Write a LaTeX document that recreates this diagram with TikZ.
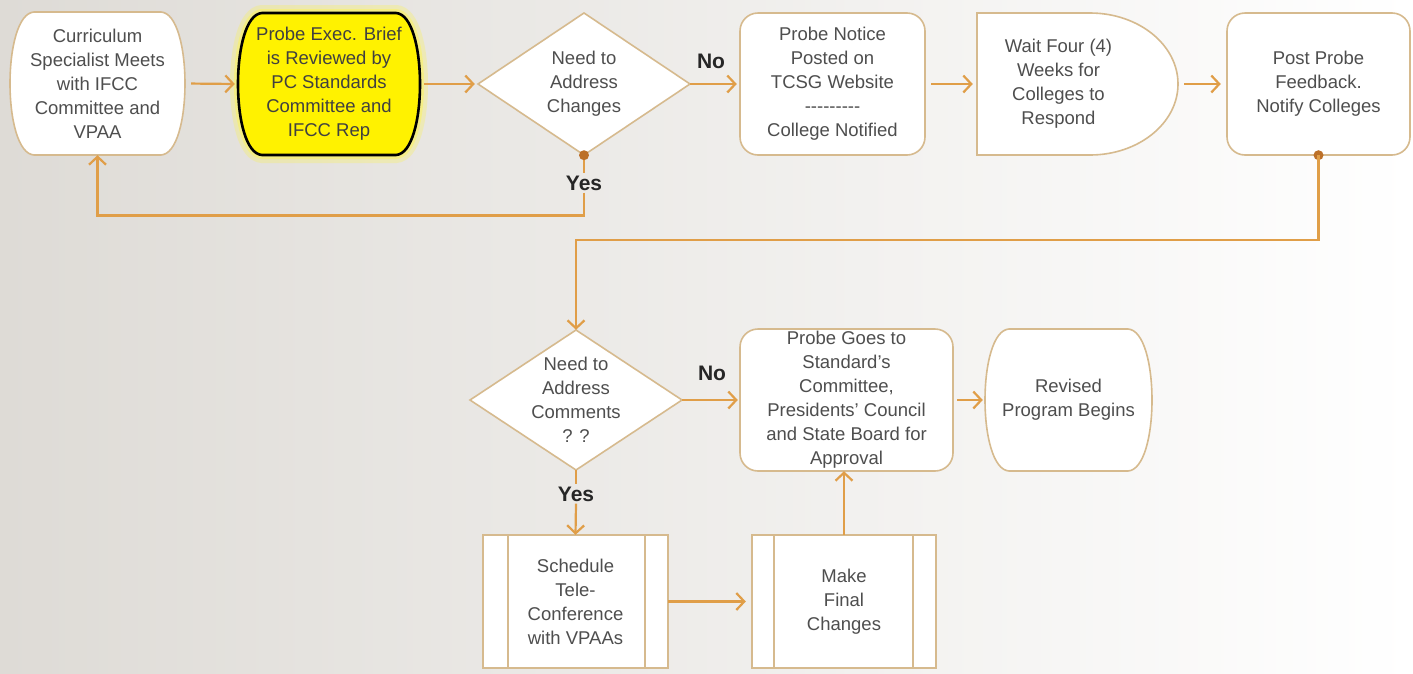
\documentclass[tikz,border=0pt]{standalone}
\usepackage{fontspec}
\setmainfont{Liberation Sans}
\usetikzlibrary{arrows.meta}
\definecolor{connc}{RGB}{224,158,72}
\definecolor{edgec}{RGB}{214,186,142}
\definecolor{txtc}{RGB}{78,78,78}
\definecolor{dotc}{RGB}{188,112,40}
\definecolor{bgl}{RGB}{222,219,214}
\begin{document}
\begin{tikzpicture}[x=1pt,y=-1pt,
  lbl/.style={font=\fontsize{18.5}{24}\selectfont, text=txtc, align=center, inner sep=0pt},
  frame/.style={draw=edgec, line width=1.6pt, fill=white},
  conn/.style={draw=connc, line width=2.2pt, -{Straight Barb[length=8pt,width=17pt]}},
  plainc/.style={draw=connc, line width=2.2pt},
  yn/.style={font=\bfseries\fontsize{21}{24}\selectfont, text=black!85, inner sep=2pt},
  dotn/.style={fill=dotc, circle, inner sep=0pt, minimum size=10pt},
  term/.style n args={4}{insert path={(#1+24,#2) -- (#3-24,#2) .. controls (#3+8,#2+2) and (#3+8,#4-2) .. (#3-24,#4) -- (#1+24,#4) .. controls (#1-8,#4-2) and (#1-8,#2+2) .. (#1+24,#2) -- cycle}},
]
% background
\shade[left color=bgl, right color=white] (0,0) rectangle (1413,673);
\useasboundingbox (0,0) rectangle (1413,673);

% shapes
\draw[frame, term={10}{12}{185}{155}];
\draw[yellow!80, line width=16pt, opacity=0.25, term={238}{13}{420}{155}];
\draw[yellow!70, line width=8pt, opacity=0.45, term={238}{13}{420}{155}];
\draw[fill=yellow, draw=black, line width=2.6pt, term={238}{13}{420}{155}];
\draw[frame] (584,13) -- (690,84) -- (584,155) -- (478,84) -- cycle;
\draw[frame, rounded corners=18pt] (740,13) rectangle (925,155);
\draw[frame] (977,13) -- (1090,13) .. controls (1138.6,13) and (1178,44.8) .. (1178,84)
   .. controls (1178,123.2) and (1138.6,155) .. (1090,155) -- (977,155) -- cycle;
\draw[frame, rounded corners=18pt] (1227,13) rectangle (1410,155);
\draw[frame] (576,330) -- (682,400) -- (576,470) -- (470,400) -- cycle;
\draw[frame, rounded corners=18pt] (740,329) rectangle (953,471);
\draw[frame, term={985}{329}{1152}{471}];
\draw[frame] (483,535) rectangle (668,668);
\draw[draw=edgec, line width=1.6pt] (508,535) -- (508,668) (645,535) -- (645,668);
\draw[frame] (752,535) rectangle (936,668);
\draw[draw=edgec, line width=1.6pt] (774,535) -- (774,668) (913,535) -- (913,668);

% nodes
\node[lbl, minimum width=175pt, minimum height=143pt] (cs) at (97.5,83.5)
  {Curriculum\\Specialist Meets\\with IFCC\\Committee and\\VPAA};
\node[lbl, text=black!75, minimum width=182pt, minimum height=142pt] (yb) at (329,84)
  {Probe Exec. Brief\\is Reviewed by\\PC Standards\\Committee and\\IFCC Rep};
\node[lbl, minimum width=212pt, minimum height=142pt] (d1) at (584,84)
  {Need to\\Address\\Changes};
\node[lbl, minimum width=185pt, minimum height=142pt] (pn) at (832.5,84)
  {Probe Notice\\Posted on\\TCSG Website\\{-}{-}{-}{-}{-}{-}{-}{-}{-}\\College Notified};
\node[lbl, align=none, minimum width=201pt, minimum height=142pt] (wait) at (1077.5,84)
  {\begin{tabular}{@{}c@{}}Wait Four (4)\\Weeks for\\Colleges to\\Respond\end{tabular}\hspace*{38pt}};
\node[lbl, minimum width=183pt, minimum height=142pt] (pp) at (1318.5,84)
  {Post Probe\\Feedback.\\Notify Colleges};
\node[lbl, minimum width=212pt, minimum height=140pt] (d2) at (576,400)
  {Need to\\Address\\Comments\\? ?};
\node[lbl, minimum width=213pt, minimum height=142pt] (pg) at (846.5,400)
  {Probe Goes to\\Standard's\\Committee,\\Presidents' Council\\and State Board for\\Approval};
\node[lbl, minimum width=167pt, minimum height=142pt] (rv) at (1068.5,400)
  {Revised\\Program Begins};
\node[lbl, minimum width=185pt, minimum height=133pt] (s1) at (575.5,601.5)
  {Schedule\\Tele-\\Conference\\with VPAAs};
\node[lbl, minimum width=184pt, minimum height=133pt] (s2) at (844,601.5)
  {Make\\Final\\Changes};

% connectors
\draw[conn, shorten <=6pt, shorten >=3pt] (cs.east) -- (yb.west);
\draw[conn, shorten <=4pt, shorten >=3pt] (yb.east) -- (d1.west);
\draw[conn, shorten >=3pt] (d1.east) -- (pn.west);
\node[yn] (no1) at (711,61) {No};
\draw[conn, shorten <=6pt, shorten >=4pt] (pn.east) -- (wait.west);
\draw[conn, shorten <=6pt, shorten >=6pt] (wait.east) -- (pp.west);

\node[yn] (yes1) at (584,183) {Yes};
\draw[plainc] (d1.south) -- (yes1.north);
\node[dotn] (dot1) at (d1.south) {};
\draw[conn] (yes1.south) -- ++(0,23) -| (cs.south);

\node[dotn] (dot2) at (pp.south) {};
\draw[conn] (pp.south) -- ++(0,85) -| (d2.north);

\draw[conn, shorten >=2pt] (d2.east) -- (pg.west);
\node[yn] (no2) at (712,373) {No};
\draw[conn, shorten <=4pt, shorten >=2pt] (pg.east) -- (rv.west);

\node[yn] (yes2) at (576,494) {Yes};
\draw[plainc] (d2.south) -- (yes2.north);
\draw[conn] (yes2.south) -- (s1.north);
\draw[conn, shorten >=6pt] (s1.east) -- (s2.west);
\draw[conn] (s2.north) -- (s2.north |- pg.south);
\end{tikzpicture}
\end{document}
